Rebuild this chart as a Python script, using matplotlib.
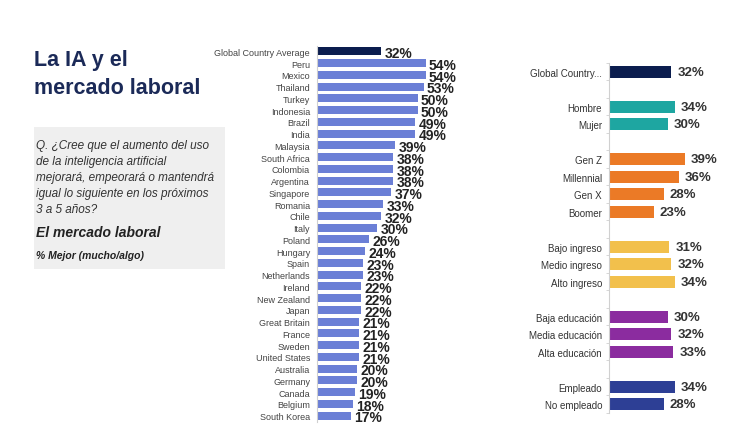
import numpy as np
import matplotlib
matplotlib.use("Agg")
import matplotlib.pyplot as plt
from matplotlib.patches import Rectangle
from matplotlib import font_manager

plt.rcParams['font.family'] = ['Liberation Sans', 'DejaVu Sans']

# narrow bold font for the value labels, if it is there
names = {f.name for f in font_manager.fontManager.ttflist}
value_family = ['Liberation Sans Narrow'] if 'Liberation Sans Narrow' in names else ['Liberation Sans']

# Left chart: countries
countries = ['Global Country Average', 'Peru', 'Mexico', 'Thailand', 'Turkey', 'Indonesia',
             'Brazil', 'India', 'Malaysia', 'South Africa', 'Colombia', 'Argentina',
             'Singapore', 'Romania', 'Chile', 'Italy', 'Poland', 'Hungary', 'Spain',
             'Netherlands', 'Ireland', 'New Zealand', 'Japan', 'Great Britain', 'France',
             'Sweden', 'United States', 'Australia', 'Germany', 'Canada', 'Belgium',
             'South Korea']
country_values = [32, 54, 54, 53, 50, 50, 49, 49, 39, 38, 38, 38, 37, 33, 32, 30, 26, 24,
                  23, 23, 22, 22, 22, 21, 21, 21, 21, 20, 20, 19, 18, 17]

# Right chart: demographic groups (None = blank spacer row)
groups = ['Global Country...', None, 'Hombre', 'Mujer', None, 'Gen Z', 'Millennial',
          'Gen X', 'Boomer', None, 'Bajo ingreso', 'Medio ingreso', 'Alto ingreso', None,
          'Baja educación', 'Media educación', 'Alta educación', None, 'Empleado',
          'No empleado']
group_values = [32, None, 34, 30, None, 39, 36, 28, 23, None, 31, 32, 34, None,
                30, 32, 33, None, 34, 28]
group_colors = ['#0b1d4e', None, '#1ea6a1', '#1ea6a1', None, '#eb7a26', '#eb7a26',
                '#eb7a26', '#eb7a26', None, '#f2c04c', '#f2c04c', '#f2c04c', None,
                '#8b2c9f', '#8b2c9f', '#8b2c9f', None, '#2d3f95', '#2d3f95']

W, H = 747, 427
fig = plt.figure(figsize=(W / 100, H / 100), dpi=100)


def px(x, y):
    return x / W, 1 - y / H


# Title
fig.text(*px(34, 66), 'La IA y el', fontsize=15.5, fontweight='bold', color='#1b2a58')
fig.text(*px(34, 94), 'mercado laboral', fontsize=15.5, fontweight='bold', color='#1b2a58')

# Question box
bx, by = px(34, 270)
fig.patches.append(Rectangle((bx, by), (225 - 34) / W, (270 - 128) / H,
                             transform=fig.transFigure, facecolor='#efefef',
                             edgecolor='none', zorder=0))
q_lines = ['Q. ¿Cree que el aumento del uso', 'de la inteligencia artificial',
           'mejorará, empeorará o mantendrá', 'igual lo siguiente en los próximos',
           '3 a 5 años?']
for i, line in enumerate(q_lines):
    fig.text(*px(36, 149 + i * 16), line, fontsize=8.5, style='italic', color='#333333')
fig.text(*px(36, 237), 'El mercado laboral', fontsize=10, style='italic',
         fontweight='bold', color='#222222')
fig.text(*px(36, 259), '% Mejor (mucho/algo)', fontsize=7.5, style='italic',
         fontweight='bold', color='#222222')

# Left axes
n = len(countries)
ax1 = fig.add_axes([317 / W, (H - 422.5) / H, 120.6 / W, 376 / H])
y1 = np.arange(n)
c1 = ['#0b1d4e'] + ['#6b7fd6'] * (n - 1)
ax1.barh(y1, country_values, height=0.68, color=c1)
ax1.set_xlim(0, 60)
ax1.set_ylim(n - 0.5, -0.5)
ax1.set_yticks(y1)
ax1.set_yticklabels(countries, fontsize=6.5, color='#444444')
ax1.set_xticks([])
for i, v in enumerate(country_values):
    ax1.text(v + 1.5, i + 0.15, f'{v}%', va='center', ha='left', fontsize=10,
             fontweight='bold', color='#222222', family=value_family, clip_on=False)

# Right axes
m = len(groups)
ax2 = fig.add_axes([609 / W, (H - 414) / H, 97.5 / W, 350 / H])
for i, (g, v, c) in enumerate(zip(groups, group_values, group_colors)):
    if v is None:
        continue
    ax2.barh(i, v, height=0.69, color=c)
    ax2.text(v + 3, i, f'{v}%', va='center', ha='left', fontsize=9.5,
             fontweight='bold', color='#333333', clip_on=False)
ax2.set_xlim(0, 50)
ax2.set_ylim(m - 0.5, -0.5)
ticks = [i for i, g in enumerate(groups) if g is not None]
ax2.set_yticks(ticks)
ax2.set_yticklabels([groups[i] for i in ticks], fontsize=7, color='#333333')
ax2.set_yticks(np.arange(m + 1) - 0.5, minor=True)
ax2.set_xticks([])

for ax in (ax1, ax2):
    for s in ('top', 'right', 'bottom'):
        ax.spines[s].set_visible(False)
    ax.spines['left'].set_color('#d0d0d0')
    ax.tick_params(axis='y', which='major', length=0, pad=5)
    ax.tick_params(axis='y', which='minor', length=2, color='#d0d0d0')

fig.savefig('out.png', dpi=100)
